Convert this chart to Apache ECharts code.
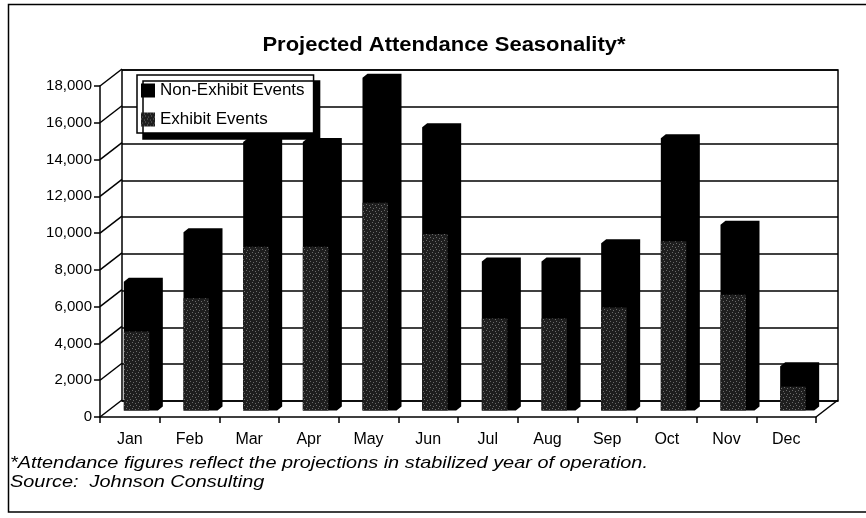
<!DOCTYPE html>
<html><head><meta charset="utf-8">
<script src="https://cdn.jsdelivr.net/npm/echarts@6/dist/echarts.min.js"></script>
<style>html,body{margin:0;padding:0;background:#fff}#c{width:866px;height:518px}</style>
</head><body><div id="c"></div>
<script>
// ---- data ----
const categories = ['Jan','Feb','Mar','Apr','May','Jun','Jul','Aug','Sep','Oct','Nov','Dec'];
const exhibitEvents = [4300, 6100, 8900, 8900, 11300, 9600, 5000, 5000, 5600, 9200, 6300, 1300];
const nonExhibitEvents = [2700, 3600, 5700, 5700, 6800, 5800, 3100, 3100, 3500, 5600, 3800, 1100];
const yTicks = [0, 2000, 4000, 6000, 8000, 10000, 12000, 14000, 16000, 18000];
const titleText = 'Projected Attendance Seasonality*';
const footnote = '*Attendance figures reflect the projections in stabilized year of operation.';
const sourceText = 'Source:  Johnson Consulting';

// ---- layout / style ----
const FONT = '"Liberation Sans", Arial, sans-serif';
const DEPTH = {x: 22, y: 17};
const BAR_SHIFT = {x: 11, y: 6.5};
const BAR_DEPTH = {x: 5, y: 4};

function makeStipple() {
  const c = document.createElement('canvas'); c.width = 6; c.height = 6;
  const g = c.getContext('2d');
  g.fillStyle = '#1e1e1e'; g.fillRect(0, 0, 6, 6);
  g.fillStyle = '#6a6a6a';
  [[0,0],[3,1],[1,4],[4,3]].forEach(p => g.fillRect(p[0], p[1], 1, 1));
  return c;
}
const stipple = {image: makeStipple(), repeat: 'repeat'};

function barGeom(params, api, v0, v1) {
  const i = api.value(0);
  const base = api.coord([i, v0]);
  const top = api.coord([i, v1]);
  const w = api.size([1, 0])[0] * 0.57;
  const x0 = base[0] + BAR_SHIFT.x - w / 2;
  return {x0: x0, x1: x0 + w, yb: base[1] - BAR_SHIFT.y, yt: top[1] - BAR_SHIFT.y, w: w};
}

const chart = echarts.init(document.getElementById('c'));
chart.setOption({
  animation: false,
  backgroundColor: '#fff',
  textStyle: {fontFamily: FONT},
  legend: {
    data: ['Non-Exhibit Events', 'Exhibit Events'],
    orient: 'vertical', left: 137, top: 75,
    itemWidth: 14, itemHeight: 14, itemGap: 12, icon: 'rect',
    padding: [7, 9, 5, 4],
    backgroundColor: '#fff', borderColor: '#000', borderWidth: 1.5,
    shadowColor: '#000', shadowOffsetX: 6, shadowOffsetY: 6, shadowBlur: 0,
    textStyle: {fontFamily: FONT, fontSize: 17, color: '#000'},
    selectedMode: false
  },
  grid: [
    {left: 100, top: 86, width: 716, height: 331, show: false},
    {left: 122, top: 70, width: 716, height: 331, show: true, borderColor: '#000', borderWidth: 1.5, backgroundColor: 'transparent'}
  ],
  xAxis: [
    {type: 'category', data: categories, gridIndex: 0,
     axisLine: {lineStyle: {color: '#000', width: 1.5}},
     axisTick: {show: true, length: 6, alignWithLabel: false, lineStyle: {color: '#000', width: 1.5}},
     axisLabel: {color: '#000', fontSize: 16, margin: 15, fontFamily: FONT}},
    {type: 'category', data: categories, gridIndex: 1, show: false}
  ],
  yAxis: [
    {type: 'value', gridIndex: 0, min: 0, max: 18000, interval: 2000,
     axisLine: {show: true, lineStyle: {color: '#000', width: 1.5}},
     axisTick: {show: true, length: 6, lineStyle: {color: '#000', width: 1.5}},
     axisLabel: {color: '#000', fontSize: 15, margin: 8, fontFamily: FONT,
                 formatter: v => v.toLocaleString('en-US')},
     splitLine: {show: false}},
    {type: 'value', gridIndex: 1, min: 0, max: 18000, interval: 2000,
     axisLine: {show: false}, axisTick: {show: false}, axisLabel: {show: false},
     splitLine: {show: true, lineStyle: {color: '#000', width: 1.5}}}
  ],
  series: [
    {
      name: 'frame', type: 'custom', xAxisIndex: 0, yAxisIndex: 0, silent: true, z: 1,
      data: yTicks.map(v => [0, v]),
      renderItem: function (params, api) {
        const cs = params.coordSys;
        const v = api.value(1);
        const y = api.coord([0, v])[1];
        const st = {stroke: '#000', lineWidth: 1.5};
        const ch = [{type: 'line', shape: {x1: cs.x, y1: y, x2: cs.x + DEPTH.x, y2: y - DEPTH.y}, style: st}];
        if (v === 0) ch.push({type: 'line', shape: {x1: cs.x + cs.width, y1: y, x2: cs.x + cs.width + DEPTH.x, y2: y - DEPTH.y}, style: st});
        return {type: 'group', children: ch};
      }
    },
    {
      name: 'Non-Exhibit Events', type: 'custom', xAxisIndex: 0, yAxisIndex: 0, z: 3,
      itemStyle: {color: '#000'},
      data: categories.map((c, i) => [i, nonExhibitEvents[i], exhibitEvents[i]]),
      encode: {x: 0, y: 1},
      renderItem: function (params, api) {
        const g = barGeom(params, api, 0, api.value(1) + api.value(2));
        const dx = BAR_DEPTH.x, dy = BAR_DEPTH.y;
        return {type: 'polygon', shape: {points: [
          [g.x0, g.yb], [g.x1, g.yb], [g.x1 + dx, g.yb - dy], [g.x1 + dx, g.yt - dy], [g.x0 + dx, g.yt - dy], [g.x0, g.yt]
        ]}, style: {fill: '#000'}};
      }
    },
    {
      name: 'Exhibit Events', type: 'custom', xAxisIndex: 0, yAxisIndex: 0, z: 4,
      itemStyle: {color: stipple},
      data: categories.map((c, i) => [i, exhibitEvents[i]]),
      encode: {x: 0, y: 1},
      renderItem: function (params, api) {
        const g = barGeom(params, api, 0, api.value(1));
        return {type: 'rect', shape: {x: g.x0, y: g.yt, width: g.w * 0.75, height: g.yb - g.yt}, style: {fill: stipple}};
      }
    }
  ],
  graphic: [
    {type: 'rect', silent: true, z: 0, shape: {x: 8.5, y: 4.5, width: 880, height: 507.5}, style: {fill: 'none', stroke: '#000', lineWidth: 1.5}},
    {type: 'text', x: 444, y: 45, scaleX: 1.1, style: {text: titleText, font: 'bold 20px ' + FONT, fill: '#000', align: 'center', verticalAlign: 'middle'}},
    {type: 'text', x: 10, y: 463, scaleX: 1.17, style: {text: footnote, font: 'italic 17px ' + FONT, fill: '#000', verticalAlign: 'middle'}},
    {type: 'text', x: 10, y: 482, scaleX: 1.17, style: {text: sourceText, font: 'italic 17px ' + FONT, fill: '#000', verticalAlign: 'middle'}}
  ]
});
</script></body></html>
